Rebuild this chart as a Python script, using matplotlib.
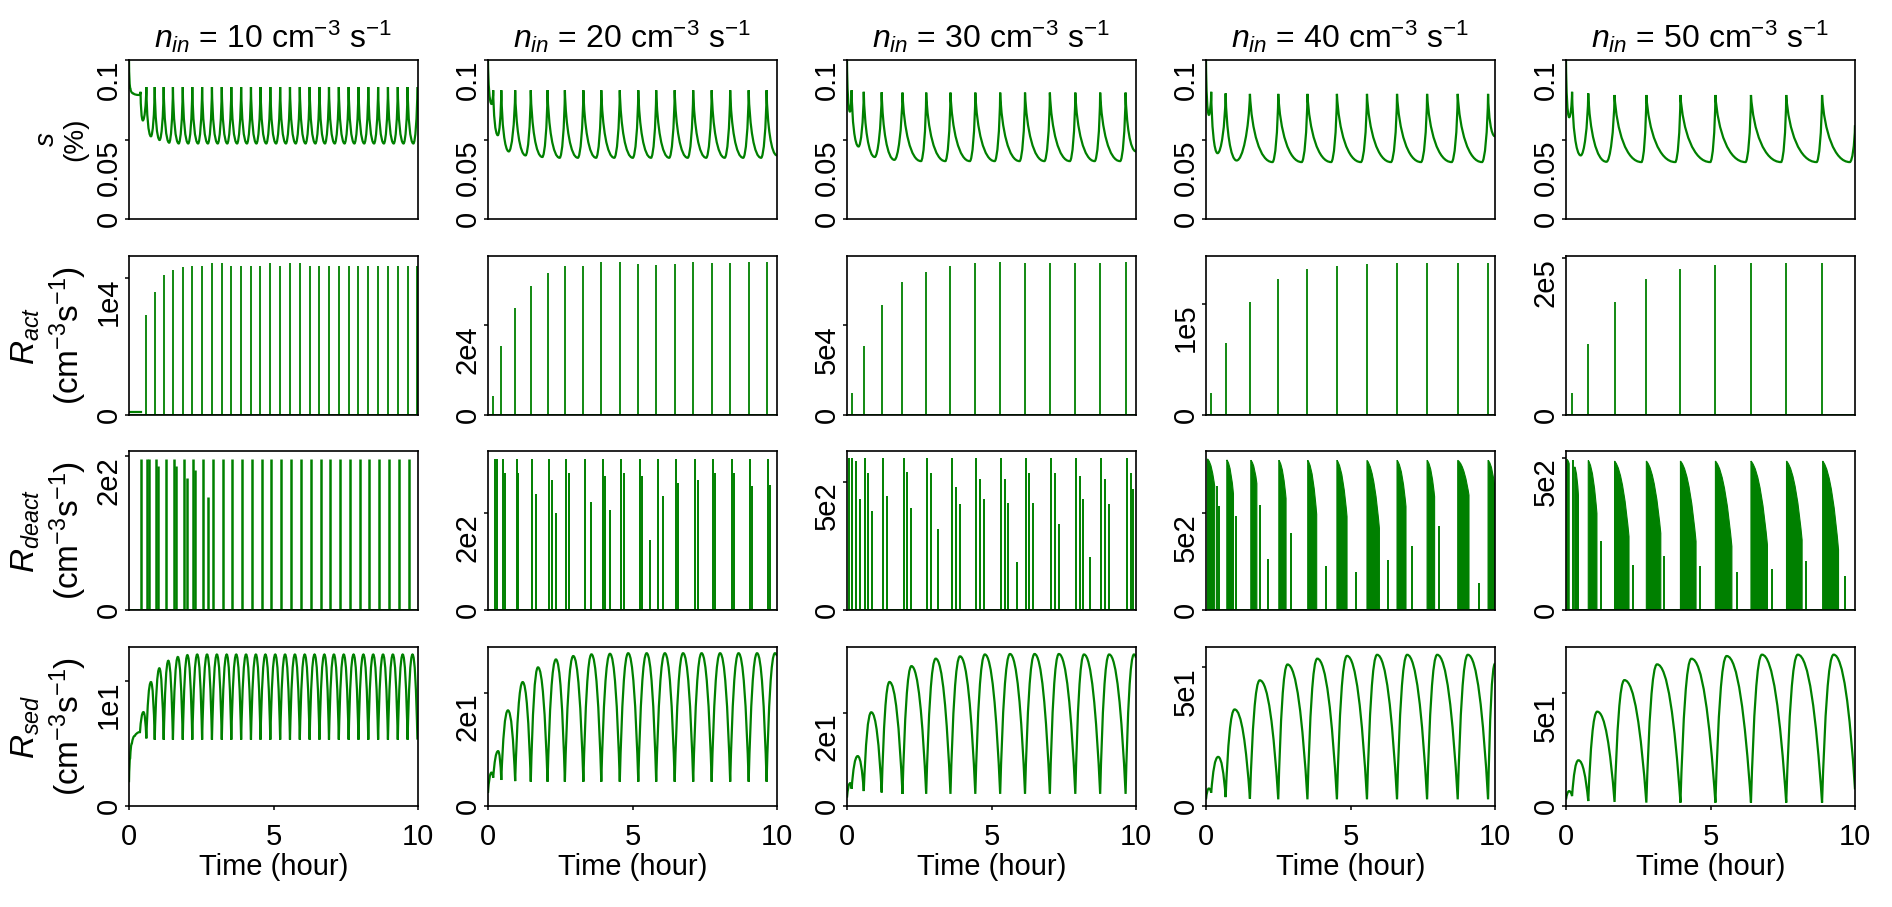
import matplotlib
import matplotlib.pyplot as plt
from matplotlib.path import Path
from matplotlib.patches import PathPatch

matplotlib.use('Agg')

plt.rcParams['font.family'] = ['Liberation Sans', 'DejaVu Sans']
plt.rcParams['mathtext.fontset'] = 'custom'
plt.rcParams['mathtext.rm'] = 'Liberation Sans'
plt.rcParams['mathtext.it'] = 'Liberation Sans:italic'

# n_in of each column (cm^-3 s^-1)
N_IN = [10, 20, 30, 40, 50]

# activation events (hour) and R_act spike heights
EVENT_T1 = [0.60, 0.89, 1.20, 1.52, 1.86, 2.19, 2.53, 2.87, 3.21, 3.54, 3.88, 4.22, 4.55, 4.89, 5.23,
            5.57, 5.91, 6.25, 6.59, 6.92, 7.26, 7.60, 7.94, 8.28, 8.62, 8.96, 9.30, 9.64, 9.98]
ACT1 = [7300, 9000, 10200, 10600, 10800, 10900, 10900, 11100, 11100, 10900, 10900, 10900, 10900, 11100, 10900,
        11100, 11100, 10900, 10900, 10900, 10900, 10900, 10900, 10900, 10900, 10900, 10900, 10900, 10900]
ACT1_START_T = [0.0, 0.42]
ACT1_START_V = [200, 200]
EVENT_T2 = [0.18, 0.46, 0.94, 1.48, 2.06, 2.66, 3.30, 3.92, 4.56, 5.20, 5.82, 6.46, 7.10, 7.74, 8.38, 9.02, 9.64]
ACT2 = [4200, 15400, 23700, 28700, 31600, 33100, 33100, 33900, 33900, 33600, 33300, 33600, 33900, 33700, 33700,
        33900, 33900]
EVENT_T3 = [0.16, 0.58, 1.20, 1.92, 2.74, 3.58, 4.44, 5.30, 6.16, 7.02, 7.90, 8.76, 9.64]
ACT3 = [12000, 38300, 61300, 73900, 79600, 82800, 84300, 85000, 84600, 84600, 84600, 84600, 85000]
EVENT_T4 = [0.18, 0.68, 1.52, 2.50, 3.51, 4.53, 5.57, 6.61, 7.65, 8.71, 9.76]
ACT4 = [20000, 65000, 102000, 122000, 131000, 134000, 136000, 137000, 137000, 137000, 137000]
EVENT_T5 = [0.21, 0.77, 1.68, 2.78, 3.96, 5.17, 6.40, 7.62, 8.86]
ACT5 = [28000, 90600, 144600, 173000, 187000, 191000, 194000, 194000, 194000]

# supersaturation s (%) turning points
S1_T = [0.00, 0.05, 0.15, 0.36, 0.40, 0.48, 0.60, 0.76, 0.89, 1.06, 1.20, 1.39, 1.52, 1.72, 1.86, 2.05, 2.19,
        2.39, 2.53, 2.73, 2.87, 3.07, 3.21, 3.40, 3.54, 3.74, 3.88, 4.08, 4.22, 4.41, 4.55, 4.75, 4.89, 5.09,
        5.23, 5.43, 5.57, 5.77, 5.91, 6.11, 6.25, 6.45, 6.59, 6.78, 6.92, 7.12, 7.26, 7.46, 7.60, 7.80, 7.94,
        8.14, 8.28, 8.48, 8.62, 8.82, 8.96, 9.16, 9.30, 9.50, 9.64, 9.84, 9.98]
S1_V = [0.100, 0.082, 0.079, 0.078, 0.080, 0.062, 0.083, 0.052, 0.083, 0.0497, 0.083, 0.048, 0.083,
        0.0475, 0.083, 0.0475, 0.083, 0.0475, 0.083, 0.0475, 0.083, 0.0475, 0.083, 0.0475, 0.083,
        0.0475, 0.083, 0.0475, 0.083, 0.0475, 0.083, 0.0475, 0.083, 0.0475, 0.083, 0.0475, 0.083,
        0.0475, 0.083, 0.0475, 0.083, 0.0475, 0.083, 0.0475, 0.083, 0.0475, 0.083, 0.0475, 0.083,
        0.0475, 0.083, 0.0475, 0.083, 0.0475, 0.083, 0.0475, 0.083, 0.0475, 0.083, 0.0475, 0.083,
        0.0475, 0.083]
S2_T = [0.00, 0.12, 0.18, 0.34, 0.46, 0.72, 0.94, 1.30, 1.48, 1.88, 2.06, 2.48, 2.66, 3.11, 3.30, 3.74, 3.92,
        4.37, 4.56, 5.01, 5.20, 5.64, 5.82, 6.27, 6.46, 6.91, 7.10, 7.55, 7.74, 8.19, 8.38, 8.83, 9.02, 9.45,
        9.64, 10.00]
S2_V = [0.100, 0.0724, 0.081, 0.0527, 0.081, 0.0425, 0.081, 0.040, 0.081, 0.039, 0.081,
        0.0385, 0.081, 0.0385, 0.081, 0.0385, 0.081, 0.0385, 0.081, 0.0385, 0.081, 0.0385, 0.081,
        0.0385, 0.081, 0.0385, 0.081, 0.0385, 0.081, 0.0385, 0.081, 0.0385, 0.081, 0.0385, 0.081, 0.040]
S3_T = [0.00, 0.10, 0.16, 0.40, 0.58, 0.96, 1.20, 1.64, 1.92, 2.56, 2.74, 3.40, 3.58, 4.25, 4.44, 5.11, 5.30,
        5.97, 6.16, 6.83, 7.02, 7.71, 7.90, 8.57, 8.76, 9.45, 9.64, 10.00]
S3_V = [0.100, 0.0676, 0.081, 0.0456, 0.080, 0.039, 0.0797, 0.0372, 0.0795,
        0.0364, 0.0795, 0.0364, 0.0795, 0.0364, 0.0795, 0.0364, 0.0795, 0.0364, 0.0795,
        0.0364, 0.0795, 0.0364, 0.0795, 0.0364, 0.0795, 0.0364, 0.0795, 0.0425]
S4_T = [0.00, 0.10, 0.18, 0.40, 0.68, 1.06, 1.52, 2.30, 2.50, 3.31, 3.51, 4.33, 4.53, 5.36, 5.57, 6.40, 6.61,
        7.44, 7.65, 8.50, 8.71, 9.55, 9.76, 10.00]
S4_V = [0.100, 0.0655, 0.080, 0.0414, 0.079, 0.0368, 0.0787,
        0.0358, 0.0787, 0.0358, 0.0787, 0.0358, 0.0787, 0.0358, 0.0787, 0.0358, 0.0787,
        0.0358, 0.0787, 0.0358, 0.0787, 0.0358, 0.0787, 0.052]
S5_T = [0.00, 0.11, 0.21, 0.51, 0.77, 1.40, 1.68, 2.61, 2.78, 3.78, 3.96, 4.99, 5.17, 6.21, 6.40, 7.44, 7.62,
        8.67, 8.86, 9.82, 10.00]
S5_V = [0.100, 0.064, 0.080, 0.040, 0.079, 0.036, 0.078,
        0.0358, 0.078, 0.0358, 0.078, 0.0358, 0.078, 0.0358, 0.078, 0.0358, 0.078,
        0.0358, 0.078, 0.0358, 0.059]

# R_deact: single spikes (hour, value) and dense clusters (start, end, start value, end value)
DEACT1_T = [0.43, 0.64, 0.69, 0.94, 1.00, 1.27, 1.57, 1.61, 1.90, 2.00, 2.22, 2.30, 2.57, 2.74, 2.91, 3.25,
            3.58, 3.92, 4.26, 4.59, 4.93, 5.27, 5.61, 5.95, 6.29, 6.63, 6.96, 7.30, 7.64, 7.98, 8.32, 8.66,
            9.00, 9.34, 9.68]
DEACT1_V = [196, 196, 196, 196, 187, 196, 196, 187, 196, 172, 196, 182, 196, 147, 196, 196,
            196, 196, 196, 196, 196, 196, 196, 196, 196, 196, 196, 196, 196, 196, 196, 196,
            196, 196, 196]
DEACT2_T = [0.23, 0.32, 0.51, 0.58, 0.99, 1.05, 1.53, 1.66, 2.11, 2.21, 2.35, 2.71, 2.80, 3.35, 3.55, 3.97,
            4.06, 4.22, 4.61, 4.70, 5.25, 5.33, 5.60, 5.87, 6.06, 6.51, 6.58, 7.15, 7.26, 7.79, 7.86, 8.43,
            8.50, 9.07, 9.14, 9.69, 9.77]
DEACT2_V = [313, 313, 313, 284, 313, 284, 313, 239, 313, 270, 200, 313, 284, 313, 223, 313,
            278, 206, 313, 284, 313, 277, 144, 313, 236, 313, 263, 313, 270, 313, 284, 313,
            284, 313, 256, 313, 258]
DEACT3_T = [0.07, 0.18, 0.30, 0.46, 0.62, 0.72, 0.85, 1.24, 1.39, 1.96, 2.08, 2.20, 2.78, 2.89, 3.14, 3.62,
            3.76, 3.90, 4.48, 4.59, 4.73, 5.34, 5.46, 5.58, 5.87, 6.20, 6.31, 6.45, 7.06, 7.20, 7.34, 7.94,
            8.06, 8.17, 8.41, 8.80, 8.93, 9.07, 9.68, 9.82, 9.91]
DEACT3_V = [591, 591, 580, 431, 591, 535, 386, 591, 444, 591, 538, 399, 591, 535, 317, 591,
            477, 412, 591, 509, 431, 591, 509, 418, 188, 591, 535, 418, 591, 535, 334, 591,
            522, 431, 208, 591, 509, 412, 591, 535, 473]
DEACT4_T = [0.37, 0.44, 1.04, 1.86, 2.14, 2.95, 4.15, 5.20, 6.29, 7.13, 8.07, 9.46]
DEACT4_V = [641, 538, 486, 542, 263, 400, 226, 198, 260, 333, 436, 140]
CLUSTER4 = [(0.05, 0.30, 780, 640), (0.72, 0.95, 775, 600), (1.55, 1.76, 773, 653), (2.52, 2.77, 773, 576),
            (3.52, 3.83, 773, 494), (4.53, 4.88, 773, 482), (5.57, 6.00, 773, 422), (6.61, 6.92, 773, 534),
            (7.65, 7.91, 773, 585), (8.71, 9.10, 773, 593), (9.76, 10.00, 773, 628)]
DEACT5_T = [0.23, 1.20, 2.31, 3.40, 4.62, 5.91, 7.12, 8.31, 9.66]
DEACT5_V = [494, 225, 149, 176, 143, 125, 135, 160, 111]
CLUSTER5 = [(0.03, 0.11, 494, 480), (0.30, 0.43, 470, 377), (0.77, 1.07, 491, 317), (1.68, 2.18, 489, 241),
            (2.78, 3.28, 489, 252), (3.96, 4.50, 489, 225), (5.17, 5.74, 489, 209), (6.40, 6.97, 489, 214),
            (7.63, 8.17, 489, 230), (8.88, 9.43, 489, 198)]

# R_sed turning points
SED1_T = [0.00, 0.04, 0.10, 0.20, 0.38, 0.50, 0.60, 0.76, 0.89, 1.05, 1.20, 1.36, 1.52, 1.69, 1.86, 2.02,
          2.19, 2.36, 2.53, 2.70, 2.87, 3.04, 3.21, 3.38, 3.54, 3.71, 3.88, 4.05, 4.22, 4.39, 4.55, 4.72,
          4.89, 5.06, 5.23, 5.40, 5.57, 5.74, 5.91, 6.08, 6.25, 6.42, 6.59, 6.76, 6.92, 7.09, 7.26, 7.43,
          7.60, 7.77, 7.94, 8.11, 8.28, 8.45, 8.62, 8.79, 8.96, 9.13, 9.30, 9.47, 9.64, 9.81, 9.98]
SED1_V = [1.9, 3.8, 5.0, 5.6, 5.9, 7.5, 5.4, 9.9, 5.3, 11.0, 5.3, 11.6, 5.3, 11.9, 5.3, 12.05,
          5.3, 12.1, 5.3, 12.1, 5.3, 12.1, 5.3, 12.1, 5.3, 12.1, 5.3, 12.1, 5.3, 12.1, 5.3, 12.1,
          5.3, 12.1, 5.3, 12.1, 5.3, 12.1, 5.3, 12.1, 5.3, 12.1, 5.3, 12.1, 5.3, 12.1, 5.3, 12.1,
          5.3, 12.1, 5.3, 12.1, 5.3, 12.1, 5.3, 12.1, 5.3, 12.1, 5.3, 12.1, 5.3, 12.1, 5.3]
SED2_T = [0.00, 0.12, 0.18, 0.35, 0.46, 0.69, 0.94, 1.20, 1.48, 1.73, 2.06, 2.35, 2.66, 2.95, 3.30, 3.58,
          3.92, 4.22, 4.56, 4.85, 5.20, 5.49, 5.82, 6.12, 6.46, 6.75, 7.10, 7.39, 7.74, 8.03, 8.38, 8.67,
          9.02, 9.31, 9.64, 9.93, 10.00]
SED2_V = [2.3, 5.9, 5.0, 9.7, 4.6, 16.9, 4.4, 21.9, 4.3, 24.5, 4.3, 25.9, 4.3, 26.5, 4.3, 26.8,
          4.3, 26.9, 4.3, 27.0, 4.3, 27.0, 4.3, 27.0, 4.3, 27.0, 4.3, 27.0, 4.3, 27.0, 4.3, 27.0,
          4.3, 27.0, 4.3, 27.0, 26.5]
SED3_T = [0.00, 0.11, 0.16, 0.37, 0.58, 0.84, 1.20, 1.47, 1.92, 2.23, 2.74, 3.07, 3.58, 3.91, 4.44, 4.77,
          5.30, 5.64, 6.16, 6.49, 7.02, 7.33, 7.90, 8.20, 8.76, 9.07, 9.64, 9.93, 10.00]
SED3_V = [1.8, 4.9, 3.7, 10.7, 3.2, 20.1, 2.9, 26.6, 2.6, 30.0, 2.6, 31.6, 2.6, 32.1, 2.6, 32.5,
          2.6, 32.6, 2.6, 32.6, 2.6, 32.6, 2.6, 32.5, 2.6, 32.5, 2.6, 32.5, 31.8]
SED4_T = [0.00, 0.10, 0.18, 0.42, 0.68, 0.99, 1.52, 1.86, 2.50, 2.82, 3.51, 3.85, 4.53, 4.88, 5.57, 5.92,
          6.61, 6.96, 7.65, 8.00, 8.71, 9.06, 9.76, 10.00]
SED4_V = [2.4, 6.3, 4.8, 17.7, 3.2, 34.8, 2.6, 45.3, 2.4, 51.0, 2.4, 53.1, 2.4, 54.1, 2.4, 54.5,
          2.4, 54.5, 2.4, 54.5, 2.4, 54.5, 2.4, 51.3]
SED5_T = [0.00, 0.11, 0.21, 0.43, 0.77, 1.08, 1.68, 2.02, 2.78, 3.15, 3.96, 4.34, 5.17, 5.56, 6.40, 6.78,
          7.62, 8.02, 8.86, 9.26, 10.00]
SED5_V = [2.9, 6.6, 4.4, 20.3, 2.2, 41.9, 1.8, 55.9, 1.5, 62.9, 1.5, 65.4, 1.5, 66.6, 1.5, 67.2,
          1.5, 67.2, 1.5, 67.2, 7.4]

# axis tops per column (rows s, R_act, R_deact, R_sed) and y ticks
Y_TOP = [[0.1, 11600, 207, 12.7], [0.1, 35300, 329, 28.1], [0.1, 88300, 619, 34.1],
         [0.1, 143000, 821, 57.3], [0.1, 203000, 522, 70.6]]
S_TICKS = [0, 0.05, 0.1]
S_TICK_LABELS = ['0', '0.05', '0.1']
R_TICK = [[10000, 200, 10], [20000, 200, 20], [50000, 500, 20], [100000, 500, 50], [200000, 500, 50]]
R_TICK_LABEL = [['1e4', '2e2', '1e1'], ['2e4', '2e2', '2e1'], ['5e4', '5e2', '2e1'],
                ['1e5', '5e2', '5e1'], ['2e5', '5e2', '5e1']]
ROW_LABELS = ['$s$\n(%)', '$R_{act}$\n(cm$^{-3}$s$^{-1}$)', '$R_{deact}$\n(cm$^{-3}$s$^{-1}$)',
              '$R_{sed}$\n(cm$^{-3}$s$^{-1}$)']

GREEN = '#008000'
TICK_FS = 21
ROW_LABEL_FS = [20, 24, 24, 24]


def smooth_path(ts, vs, kind):
    # cubic segments between the turning points
    verts = [(ts[0], vs[0])]
    codes = [Path.MOVETO]
    for i in range(1, len(ts)):
        t0, v0, t1, v1 = ts[i - 1], vs[i - 1], ts[i], vs[i]
        dt, dv = t1 - t0, v1 - v0
        if kind == 's':
            if dv > 0:
                c1, c2 = (t0 + 0.45 * dt, v0), (t1 - 0.08 * dt, v0 + 0.45 * dv)
            else:
                c1, c2 = (t0 + 0.08 * dt, v0 + 0.55 * dv), (t0 + 0.45 * dt, v1)
        else:
            if dv > 0:
                c1, c2 = (t0 + 0.25 * dt, v0 + 0.6 * dv), (t1 - 0.45 * dt, v1)
            else:
                c1, c2 = (t0 + 0.45 * dt, v0), (t1 - 0.25 * dt, v1 - 0.6 * dv)
        verts += [c1, c2, (t1, v1)]
        codes += [Path.CURVE4] * 3
    return Path(verts, codes)


def cluster_path(t0, t1, h0, h1):
    dt, dh = t1 - t0, h1 - h0
    verts = [(t0, 0), (t0, h0), (t0 + 0.5 * dt, h0 + 0.1 * dh), (t1 - 0.2 * dt, h0 + 0.6 * dh), (t1, h1),
             (t1, 0), (t0, 0)]
    codes = [Path.MOVETO, Path.LINETO, Path.CURVE4, Path.CURVE4, Path.CURVE4, Path.LINETO, Path.CLOSEPOLY]
    return Path(verts, codes)


def main():
    events = [EVENT_T1, EVENT_T2, EVENT_T3, EVENT_T4, EVENT_T5]
    acts = [ACT1, ACT2, ACT3, ACT4, ACT5]
    s_data = [(S1_T, S1_V), (S2_T, S2_V), (S3_T, S3_V), (S4_T, S4_V), (S5_T, S5_V)]
    deact = [(DEACT1_T, DEACT1_V), (DEACT2_T, DEACT2_V), (DEACT3_T, DEACT3_V), (DEACT4_T, DEACT4_V),
             (DEACT5_T, DEACT5_V)]
    clusters = [[], [], [], CLUSTER4, CLUSTER5]
    sed = [(SED1_T, SED1_V), (SED2_T, SED2_V), (SED3_T, SED3_V), (SED4_T, SED4_V), (SED5_T, SED5_V)]

    fig = plt.figure(figsize=(18.92, 9.07), dpi=100)
    fw, fh = 1892.0, 907.0
    lefts = [129, 488, 847, 1206, 1566]
    tops = [60, 256, 451, 647]
    aw, ah = 289, 159

    for c in range(5):
        for r in range(4):
            ax = fig.add_axes([lefts[c] / fw, 1 - (tops[r] + ah) / fh, aw / fw, ah / fh])
            if r == 0:
                ts, vs = s_data[c]
                ax.add_patch(PathPatch(smooth_path(ts, vs, 's'), fill=False, ec=GREEN, lw=1.6))
                ax.set_title(r'$n_{in}$ = %d cm$^{-3}$ s$^{-1}$' % N_IN[c], fontsize=23, pad=9)
            elif r == 1:
                ax.plot([0, 10], [0, 0], color=GREEN, lw=1.4)
                ax.vlines(events[c], 0, acts[c], color=GREEN, lw=1.3)
                if c == 0:
                    ax.plot(ACT1_START_T, ACT1_START_V, color=GREEN, lw=1.6)
            elif r == 2:
                ax.plot([0, 10], [0, 0], color=GREEN, lw=1.4)
                for t0, t1, h0, h1 in clusters[c]:
                    ax.add_patch(PathPatch(cluster_path(t0, t1, h0, h1), fc=GREEN, ec=GREEN, lw=0.8))
                ts, vs = deact[c]
                ax.vlines(ts, 0, vs, color=GREEN, lw=1.8 if c == 0 else 1.4)
            else:
                ts, vs = sed[c]
                ax.add_patch(PathPatch(smooth_path(ts, vs, 'sed'), fill=False, ec=GREEN, lw=1.6))

            ax.set_xlim(0, 10)
            ax.set_ylim(0, Y_TOP[c][r])
            for sp in ax.spines.values():
                sp.set_linewidth(1.2)
            if r == 0:
                ax.set_yticks(S_TICKS, S_TICK_LABELS)
            else:
                ax.set_yticks([0, R_TICK[c][r - 1]], ['0', R_TICK_LABEL[c][r - 1]])
            if r == 3:
                ax.set_xticks([0, 5, 10], ['0', '5', '10'])
                ax.set_xlabel('Time (hour)', fontsize=21, labelpad=2)
            else:
                ax.set_xticks([])
            ax.tick_params(direction='out', length=3, width=1.1, labelsize=TICK_FS)
            ax.tick_params(axis='y', pad=6)
            ax.tick_params(axis='x', pad=9)
            for i, lab in enumerate(ax.get_yticklabels()):
                lab.set_rotation(90)
                lab.set_rotation_mode('anchor')
                lab.set_va('baseline')
                lab.set_ha('center' if i == 0 else 'right')
            if c == 0:
                ax.set_ylabel(ROW_LABELS[r], fontsize=ROW_LABEL_FS[r], linespacing=1.15)
                ax.yaxis.set_label_coords(-0.14, 0.5)

    fig.savefig('out.png', dpi=100)


if __name__ == '__main__':
    main()
